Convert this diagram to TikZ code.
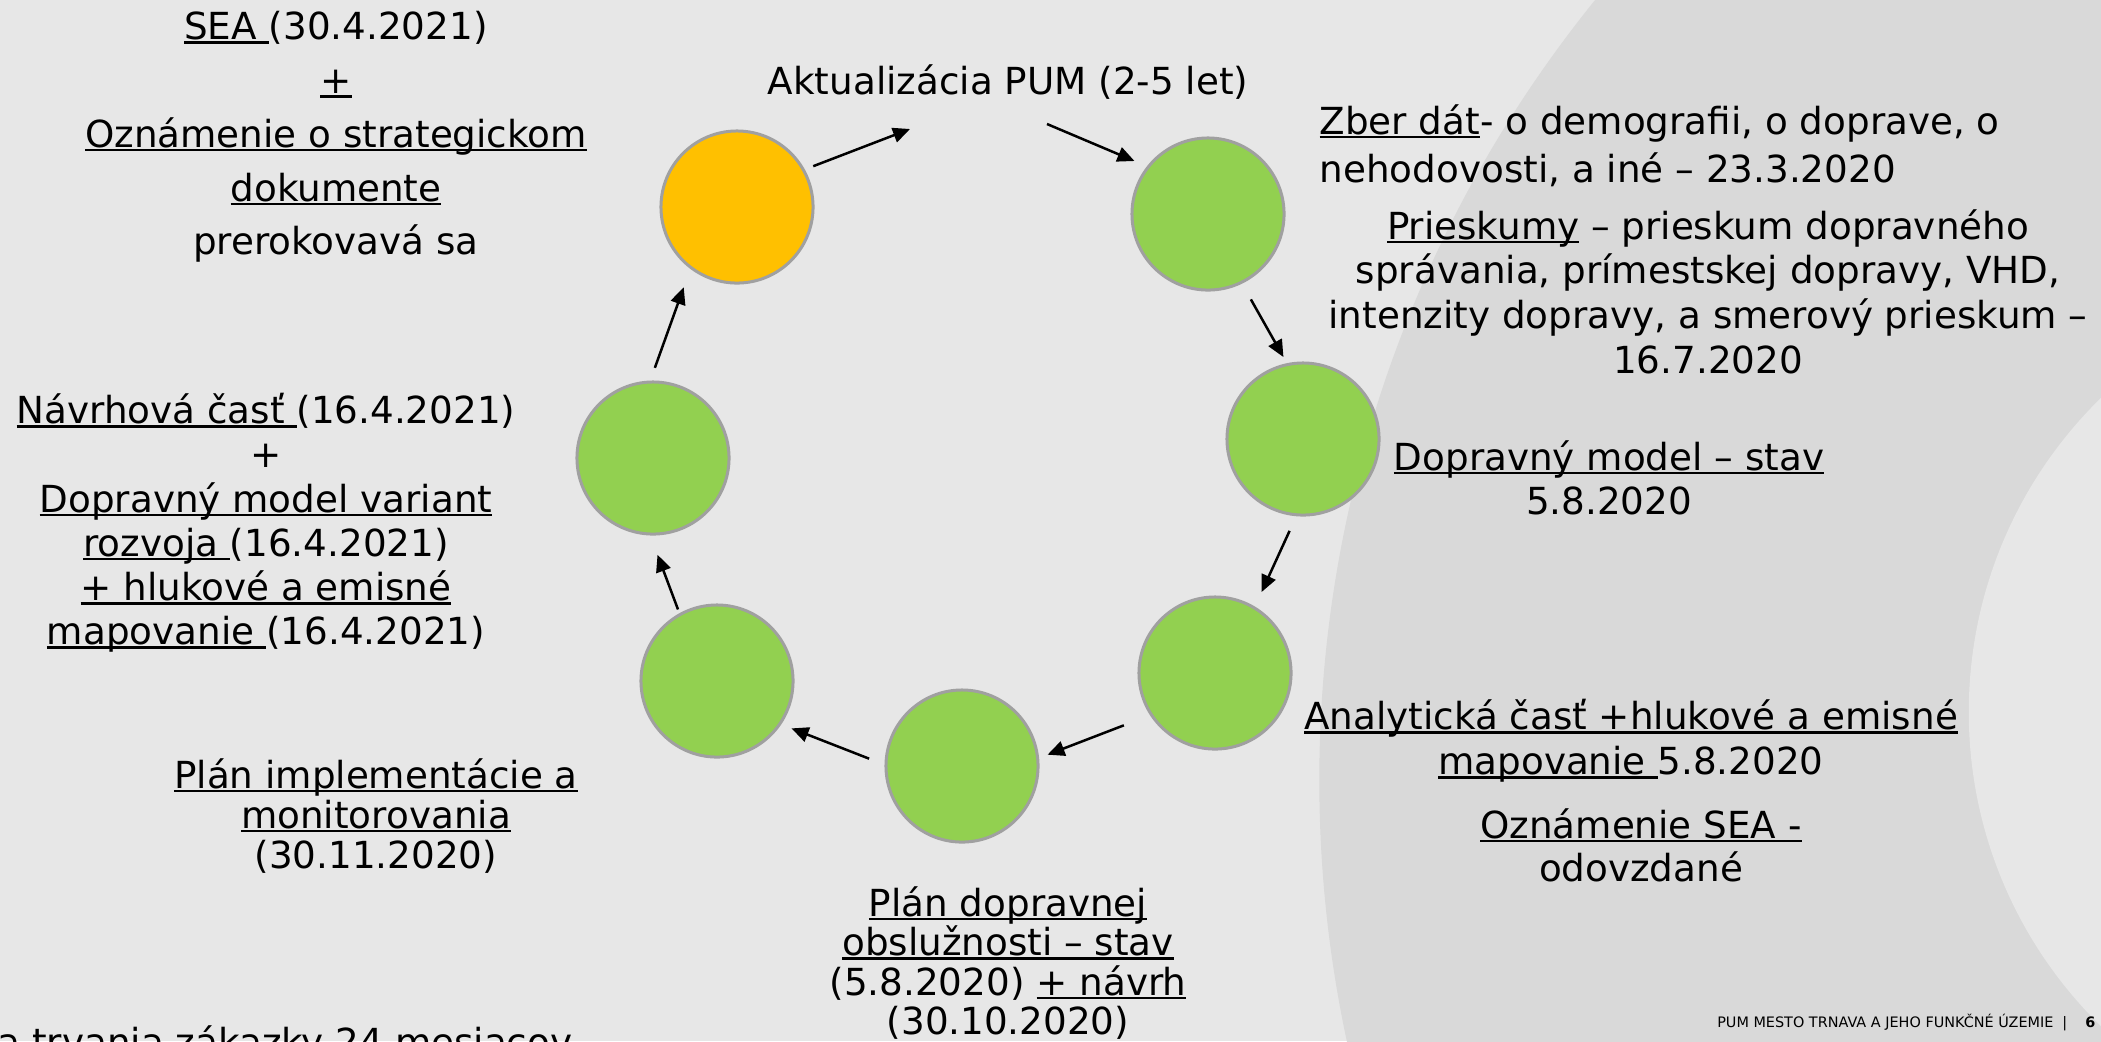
\documentclass[tikz,border=0pt]{standalone}
\usepackage{fontspec}
\setmainfont{DejaVu Sans}
\usepackage{tikz}
\usetikzlibrary{arrows.meta}
\definecolor{slidebg}{HTML}{E7E7E7}
\definecolor{slideband}{HTML}{D9D9D9}
\definecolor{stepgreen}{HTML}{92D050}
\definecolor{stepyellow}{HTML}{FFC000}
\definecolor{stepedge}{HTML}{A0A0A0}
\newcommand{\undl}[1]{\setbox0\hbox{#1}\rlap{\rule[-0.04cm]{\wd0}{0.025cm}}\box0\relax}
\tikzset{%
  phase/.style={circle, draw=stepedge, line width=0.03cm, minimum size=1.52cm, inner sep=0, fill=stepgreen},
  phase now/.style={phase, fill=stepyellow},
  cyc/.style={-{Triangle[length=0.17cm,width=0.15cm]}, line width=0.025cm},
  note/.style={anchor=north, align=center, inner sep=0, font=\fontsize{10.6}{#1}\selectfont},
  note/.default=12.5}

\begin{document}
\begin{tikzpicture}[x=0.01cm, y=-0.01cm]
\useasboundingbox (0,0) rectangle (2101,1041);
\fill[slidebg] (0,0) rectangle (2101,1041);
\begin{scope}
\clip (0,0) rectangle (2101,1041);
\fill[slideband] (2560,780) circle[radius=12.4cm];
\fill[slidebg] (2408,712) circle[radius=4.39cm];
\end{scope}
\node[phase now] (sea) at (737,207) {};
\node[phase] (zber) at (1208,214) {};
\node[phase] (model) at (1303,439) {};
\node[phase] (analyt) at (1215,673) {};
\node[phase] (obsl) at (962,766) {};
\node[phase] (impl) at (717,681) {};
\node[phase] (navrh) at (653,458) {};
\coordinate (upd1) at (910,129);
\coordinate (upd2) at (1047,124);
\draw[cyc, shorten <=0.09cm] (sea.29) -- (upd1);
\draw[cyc, shorten >=0.135cm] (upd2) -- (zber.142);
\draw[cyc, shorten <=0.18cm, shorten >=0.07cm] (zber.-64) -- (model.102);
\draw[cyc, shorten <=0.16cm, shorten >=0.16cm] (model.-95) -- (analyt.59);
\draw[cyc, shorten <=0.28cm, shorten >=0.09cm] (analyt.-147) -- (obsl.6);
\draw[cyc, shorten <=0.165cm, shorten >=0.11cm] (obsl.179) -- (impl.-34);
\draw[cyc, shorten <=0.04cm, shorten >=0.205cm] (impl.119) -- (navrh.-92);
\draw[cyc, shorten <=0.135cm, shorten >=0.195cm] (navrh.92) -- (sea.-127);
\node[note] (upd-l) at (1008,63.5) {Aktualizácia PUM (2-5 let)};
\node[note=15.3] (sea-l) at (336,10.7) {\undl{SEA }(30.4.2021)\\\undl{+}\\\undl{Oznámenie o strategickom}\\\undl{dokumente}\\prerokovavá sa};
\node[note=12.58] (navrh-l) at (266,392.5) {\undl{Návrhová časť }(16.4.2021)\\+\\\undl{Dopravný model variant}\\\undl{rozvoja }(16.4.2021)\\\undl{+ hlukové a emisné}\\\undl{mapovanie }(16.4.2021)};
\node[note=11.38] (impl-l) at (376,757.5) {\undl{Plán implementácie a}\\\undl{monitorovania}\\(30.11.2020)};
\node[note=13.66, align=left, anchor=north west] (zber-l) at (1319,103.5) {\undl{Zber dát}- o demografii, o doprave, o\\nehodovosti, a iné – 23.3.2020};
\node[note=12.72] (prieskum-l) at (1708,208.5) {\undl{Prieskumy} – prieskum dopravného\\správania, prímestskej dopravy, VHD,\\intenzity dopravy, a smerový prieskum –\\16.7.2020};
\node[note=12.52] (model-l) at (1609,439.5) {\undl{Dopravný model – stav}\\5.8.2020};
\node[note=12.8] (analyt-l) at (1631,698.5) {\undl{Analytická časť +hlukové a emisné}\\\undl{mapovanie }5.8.2020};
\node[note=12.23] (oznam-l) at (1641,807.5) {\undl{Oznámenie SEA -}\\odovzdané};
\node[note=11.24] (obsl-l) at (1008,885.5) {\undl{Plán dopravnej}\\\undl{obslužnosti – stav}\\(5.8.2020) \undl{+ návrh}\\(30.10.2020)};
\node[anchor=base east, inner sep=0, font=\fontsize{10.6}{12.5}\selectfont] (doba-l) at (573,1055) {a trvania zákazky 24 mesiacov};
\node[anchor=base east, inner sep=0, font=\fontsize{4.1}{4.7}\selectfont] (foot) at (2096,1027) {PUM MESTO TRNAVA A JEHO FUNKČNÉ ÚZEMIE\hspace{0.09cm}|\hspace{0.18cm}\textbf{6}};
\end{tikzpicture}
\end{document}
